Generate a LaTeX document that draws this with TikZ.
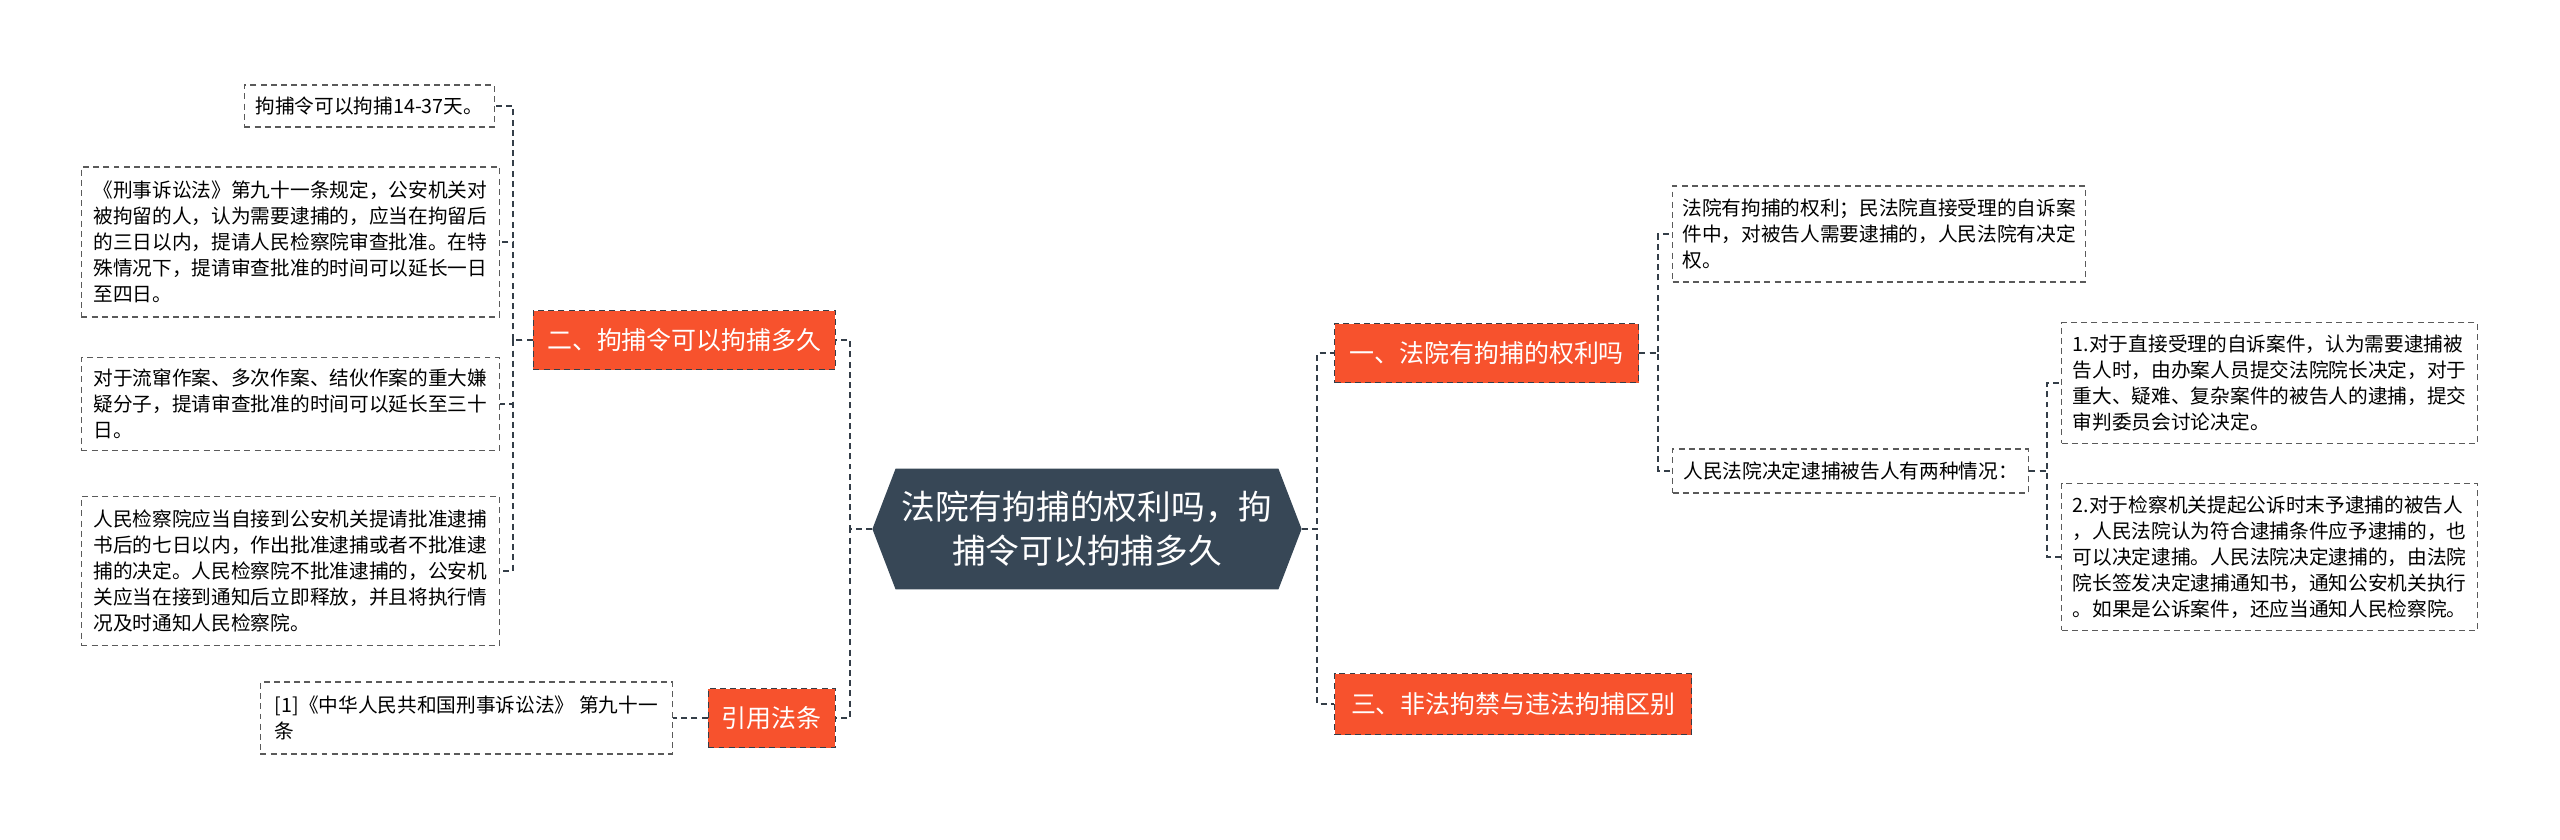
\documentclass[tikz,border=0pt]{standalone}
\usepackage{fontspec}
\setmainfont{Noto Sans CJK SC}
\usetikzlibrary{shapes.symbols}

\definecolor{hubblue}{RGB}{55,71,86}
\definecolor{branchred}{RGB}{247,82,45}
\definecolor{linkgray}{RGB}{52,62,72}
\definecolor{leafgray}{RGB}{90,90,90}

\begin{document}
\begin{tikzpicture}[x=0.02cm, y=-0.02cm,
  hub/.style={shape=signal, signal to=west and east, signal pointer angle=138, fill=hubblue, text=white, align=center,
    minimum width=8.56cm, minimum height=2.42cm, font=\fontsize{19.2pt}{25pt}\selectfont},
  branch/.style={fill=branchred, draw=linkgray, dash pattern=on 3.4pt off 2.4pt, line width=0.8pt, text=white,
    minimum height=1.18cm, font=\fontsize{14.2pt}{17pt}\selectfont},
  leaf/.style={draw=leafgray, dash pattern=on 3.4pt off 2.4pt, line width=0.8pt, align=left,
    font=\fontsize{11.2pt}{14.8pt}\selectfont},
  link/.style={draw=linkgray, dash pattern=on 3.4pt off 2.4pt, line width=1pt}]

  \useasboundingbox (0,0) rectangle (2560,839);

  % Nodes
  \node (hub) [hub] at (1087,529) {法院有拘捕的权利吗，拘\\捕令可以拘捕多久};

  \node (b2) [branch, anchor=east, minimum width=6.04cm] at (836,340) {二、拘捕令可以拘捕多久};
  \node (b4) [branch, anchor=east, minimum width=2.54cm] at (836,718) {引用法条};
  \node (b1) [branch, anchor=west, minimum width=6.08cm] at (1334,353) {一、法院有拘捕的权利吗};
  \node (b3) [branch, anchor=west, minimum width=7.14cm, minimum height=1.22cm] at (1334,704) {三、非法拘禁与违法拘捕区别};

  \node (l1) [leaf, anchor=east, minimum width=5cm, minimum height=0.84cm] at (495,106) {拘捕令可以拘捕14-37天。};
  \node (l2) [leaf, anchor=east, minimum width=8.36cm, minimum height=3cm] at (500,242)
    {《刑事诉讼法》第九十一条规定，公安机关对\\被拘留的人，认为需要逮捕的，应当在拘留后\\的三日以内，提请人民检察院审查批准。在特\\殊情况下，提请审查批准的时间可以延长一日\\至四日。};
  \node (l3) [leaf, anchor=east, minimum width=8.36cm, minimum height=1.86cm] at (500,404)
    {对于流窜作案、多次作案、结伙作案的重大嫌\\疑分子，提请审查批准的时间可以延长至三十\\日。};
  \node (l4) [leaf, anchor=east, minimum width=8.36cm, minimum height=2.98cm] at (500,571)
    {人民检察院应当自接到公安机关提请批准逮捕\\书后的七日以内，作出批准逮捕或者不批准逮\\捕的决定。人民检察院不批准逮捕的，公安机\\关应当在接到通知后立即释放，并且将执行情\\况及时通知人民检察院。};
  \node (l5) [leaf, anchor=east, minimum width=8.24cm, minimum height=1.44cm] at (673,718)
    {[1]《中华人民共和国刑事诉讼法》 第九十一\\条};

  \node (r1) [leaf, anchor=west, minimum width=8.26cm, minimum height=1.92cm] at (1672,234)
    {法院有拘捕的权利；民法院直接受理的自诉案\\件中，对被告人需要逮捕的，人民法院有决定\\权。};
  \node (r2) [leaf, anchor=west, minimum width=7.12cm, minimum height=0.88cm] at (1672,471)
    {人民法院决定逮捕被告人有两种情况：};
  \node (r3) [leaf, anchor=west, minimum width=8.32cm, minimum height=2.42cm] at (2061,383)
    {1.对于直接受理的自诉案件，认为需要逮捕被\\告人时，由办案人员提交法院院长决定，对于\\重大、疑难、复杂案件的被告人的逮捕，提交\\审判委员会讨论决定。};
  \node (r4) [leaf, anchor=west, minimum width=8.32cm, minimum height=2.94cm] at (2061,557)
    {2.对于检察机关提起公诉时末予逮捕的被告人\\，人民法院认为符合逮捕条件应予逮捕的，也\\可以决定逮捕。人民法院决定逮捕的，由法院\\院长签发决定逮捕通知书，通知公安机关执行\\。如果是公诉案件，还应当通知人民检察院。};

  % Edges
  \draw[link] (hub.west) -- ++(-22,0) |- (b2.east);
  \draw[link] (hub.west) -- ++(-22,0) |- (b4.east);
  \draw[link] (hub.east) -- ++(15,0) |- (b1.west);
  \draw[link] (hub.east) -- ++(15,0) |- (b3.west);

  \draw[link] (b2.west) -- ++(-20,0) |- (l1.east);
  \draw[link] (b2.west) -- ++(-20,0) |- (l2.east);
  \draw[link] (b2.west) -- ++(-20,0) |- (l3.east);
  \draw[link] (b2.west) -- ++(-20,0) |- (l4.east);
  \draw[link] (b4.west) -- (l5.east);

  \draw[link] (b1.east) -- ++(19,0) |- (r1.west);
  \draw[link] (b1.east) -- ++(19,0) |- (r2.west);
  \draw[link] (r2.east) -- ++(18,0) |- (r3.west);
  \draw[link] (r2.east) -- ++(18,0) |- (r4.west);

\end{tikzpicture}
\end{document}
